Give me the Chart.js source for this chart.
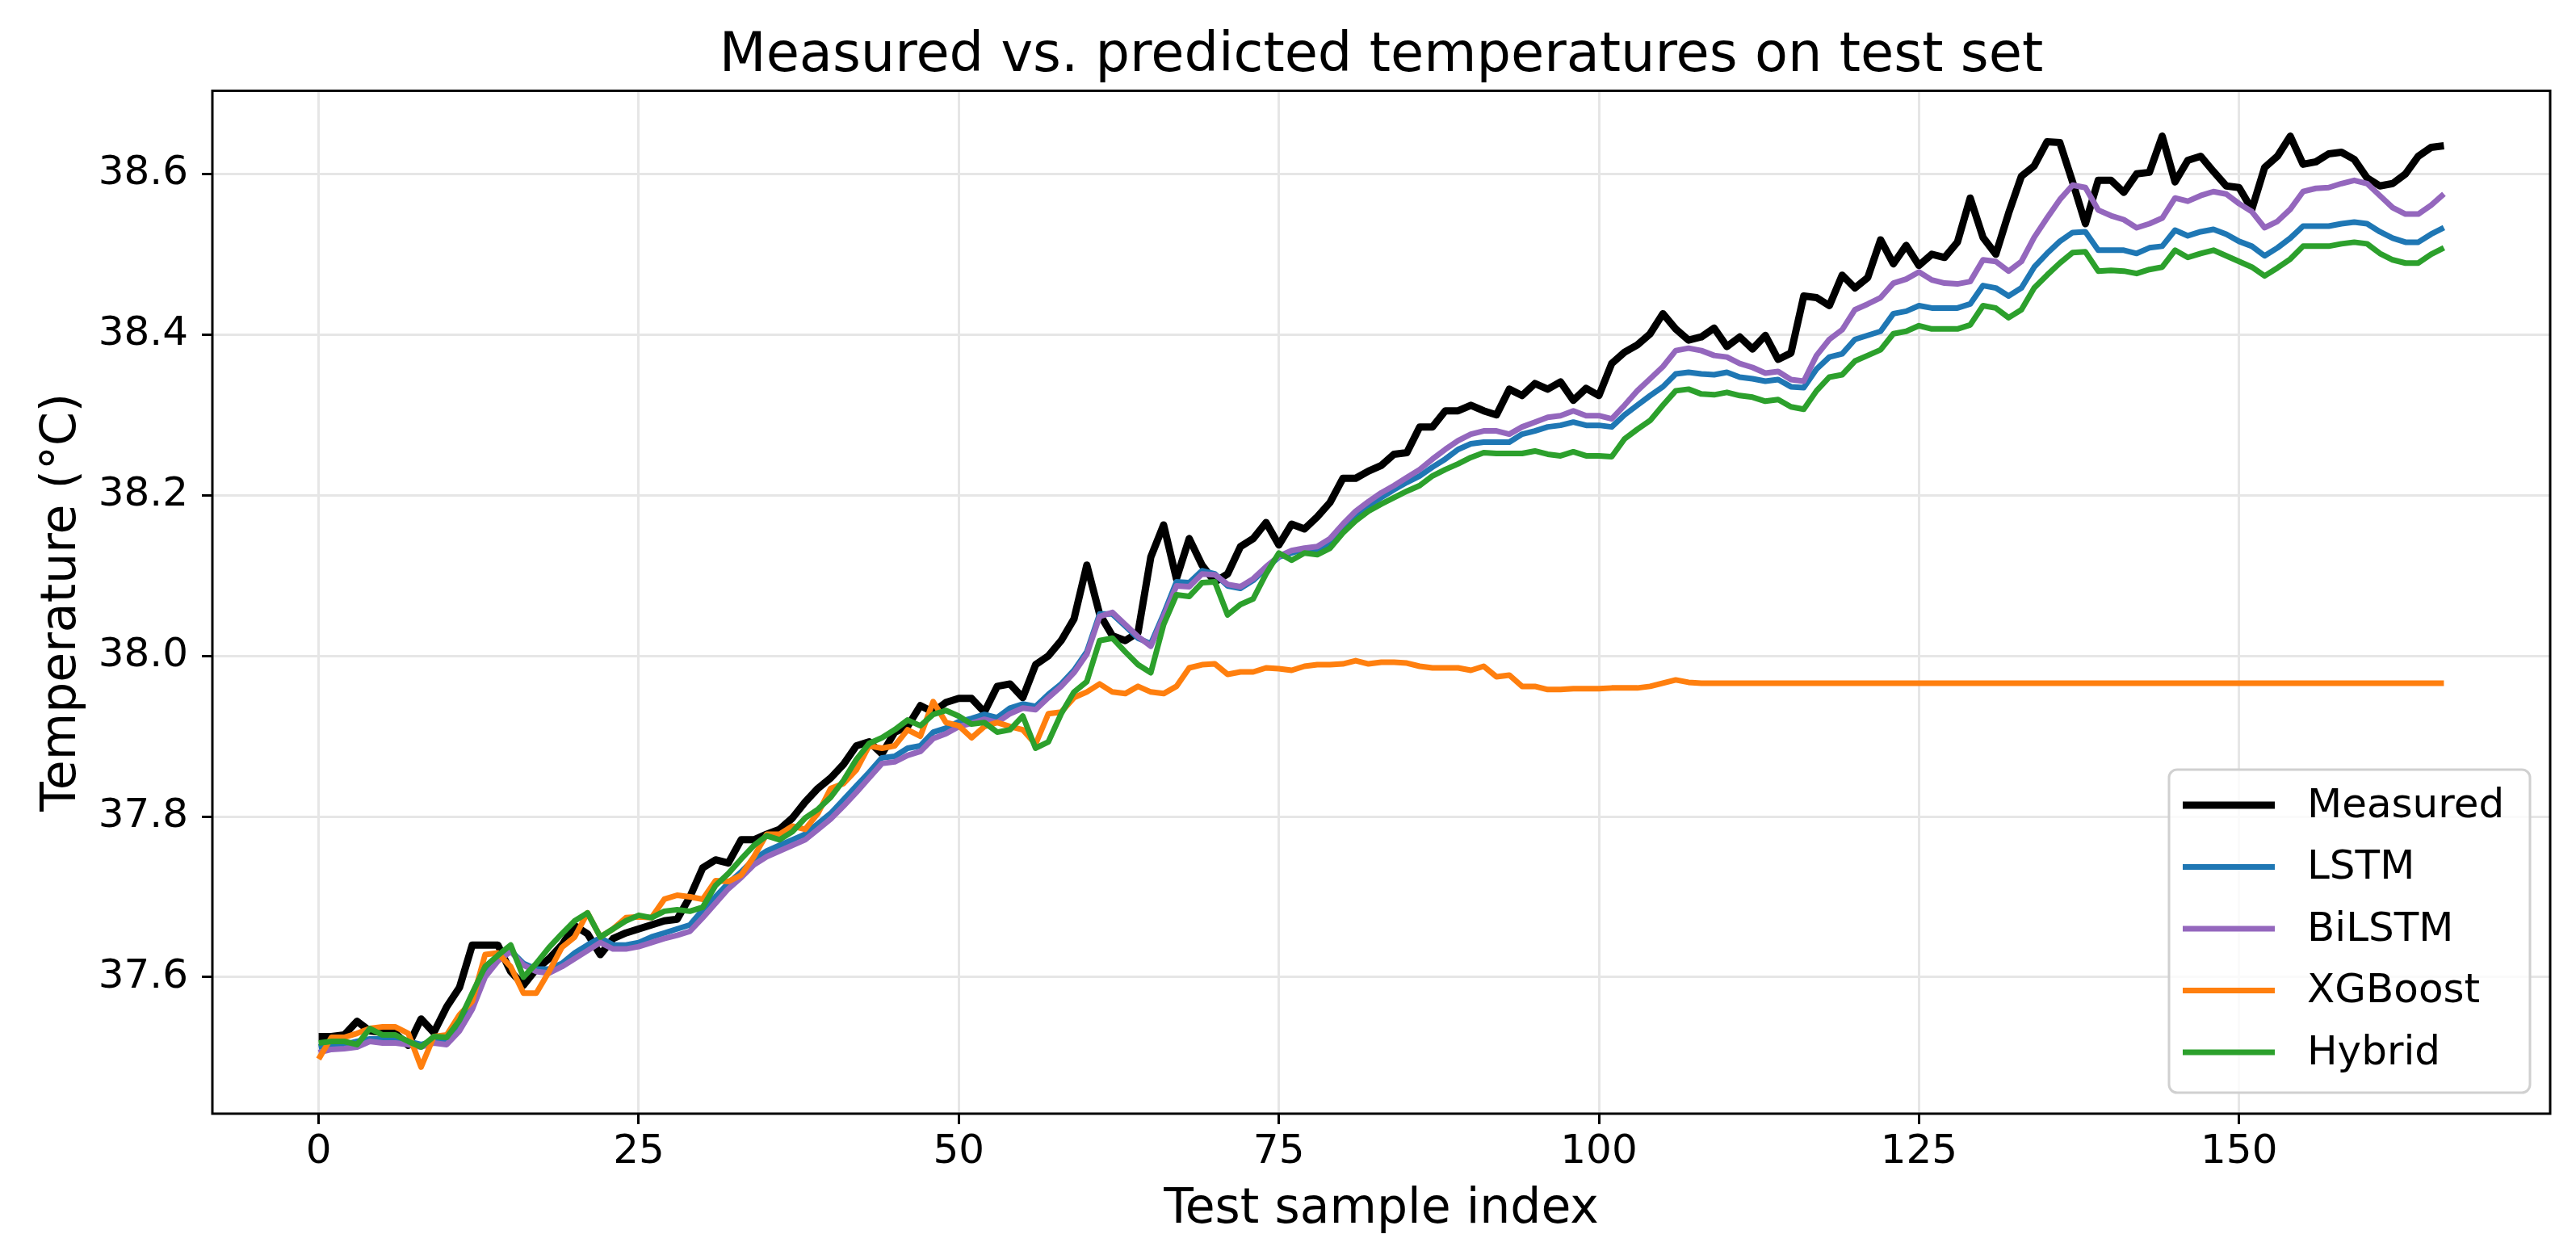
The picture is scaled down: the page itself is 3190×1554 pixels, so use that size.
<!DOCTYPE html>
<html>
<head>
<meta charset="utf-8">
<script src="https://cdn.jsdelivr.net/npm/chart.js@4.4.1/dist/chart.umd.min.js"></script>
<style>
  html, body { margin: 0; padding: 0; background: #fff; }
  #c { display: block; }
</style>
</head>
<body>
<canvas id="c" width="3190" height="1554" style="width:3190px;height:1554px"></canvas>
<script>
// values, one per test sample (index 0..166)
var measured = [
  37.526,37.526,37.528,37.545,37.533,37.531,37.530,37.515,37.548,37.531,
  37.563,37.587,37.640,37.640,37.640,37.607,37.590,37.610,37.623,37.640,
  37.664,37.654,37.628,37.648,37.655,37.660,37.665,37.670,37.672,37.700,
  37.736,37.746,37.742,37.771,37.771,37.778,37.784,37.798,37.818,37.835,
  37.848,37.865,37.888,37.893,37.878,37.905,37.912,37.938,37.930,37.942,
  37.947,37.947,37.930,37.962,37.965,37.948,37.989,38.000,38.019,38.046,
  38.113,38.052,38.025,38.019,38.029,38.123,38.163,38.096,38.146,38.113,
  38.092,38.102,38.136,38.146,38.166,38.138,38.164,38.158,38.173,38.191,
  38.221,38.221,38.230,38.237,38.251,38.253,38.285,38.285,38.305,38.305,
  38.312,38.305,38.300,38.332,38.324,38.339,38.332,38.341,38.318,38.333,
  38.324,38.364,38.378,38.387,38.401,38.426,38.407,38.393,38.397,38.408,
  38.385,38.397,38.382,38.399,38.369,38.377,38.448,38.446,38.436,38.474,
  38.458,38.471,38.518,38.488,38.511,38.486,38.500,38.496,38.515,38.570,
  38.521,38.500,38.551,38.597,38.610,38.640,38.639,38.590,38.538,38.592,
  38.592,38.577,38.600,38.602,38.647,38.590,38.617,38.622,38.603,38.585,
  38.583,38.556,38.608,38.622,38.647,38.612,38.615,38.625,38.627,38.618,
  38.595,38.585,38.588,38.600,38.622,38.633,38.635
];
var lstm = [
  37.513,37.516,37.516,37.520,37.523,37.523,37.522,37.520,37.516,37.521,
  37.521,37.540,37.570,37.610,37.622,37.633,37.617,37.610,37.610,37.617,
  37.630,37.640,37.649,37.640,37.640,37.643,37.650,37.655,37.660,37.665,
  37.684,37.700,37.717,37.731,37.747,37.757,37.764,37.771,37.778,37.791,
  37.804,37.821,37.838,37.855,37.873,37.875,37.885,37.888,37.905,37.910,
  37.918,37.922,37.927,37.923,37.935,37.940,37.937,37.952,37.965,37.982,
  38.005,38.052,38.052,38.037,38.022,38.015,38.052,38.092,38.091,38.106,
  38.102,38.087,38.084,38.094,38.109,38.123,38.128,38.133,38.131,38.139,
  38.159,38.175,38.187,38.197,38.207,38.216,38.224,38.235,38.245,38.257,
  38.264,38.266,38.266,38.266,38.276,38.280,38.285,38.287,38.291,38.287,
  38.287,38.285,38.300,38.312,38.324,38.335,38.351,38.353,38.351,38.350,
  38.353,38.347,38.345,38.342,38.344,38.335,38.334,38.357,38.372,38.376,
  38.394,38.399,38.404,38.426,38.429,38.436,38.433,38.433,38.433,38.438,
  38.461,38.458,38.448,38.458,38.484,38.501,38.516,38.527,38.528,38.505,
  38.505,38.505,38.501,38.508,38.510,38.530,38.523,38.528,38.531,38.525,
  38.516,38.510,38.498,38.508,38.520,38.535,38.535,38.535,38.538,38.540,
  38.538,38.528,38.520,38.515,38.515,38.525,38.533
];
var bilstm = [
  37.506,37.510,37.511,37.513,37.520,37.518,37.518,37.516,37.513,37.518,
  37.516,37.533,37.560,37.600,37.620,37.632,37.615,37.607,37.605,37.613,
  37.623,37.633,37.643,37.635,37.635,37.638,37.643,37.648,37.652,37.657,
  37.674,37.692,37.710,37.724,37.740,37.750,37.757,37.764,37.771,37.784,
  37.797,37.813,37.830,37.848,37.866,37.868,37.876,37.881,37.897,37.903,
  37.912,37.916,37.921,37.917,37.928,37.935,37.933,37.948,37.962,37.979,
  38.002,38.049,38.054,38.039,38.024,38.012,38.049,38.087,38.086,38.102,
  38.101,38.089,38.086,38.096,38.111,38.124,38.131,38.134,38.136,38.146,
  38.164,38.180,38.192,38.203,38.212,38.222,38.232,38.245,38.257,38.268,
  38.276,38.280,38.280,38.276,38.285,38.291,38.297,38.299,38.305,38.299,
  38.299,38.295,38.312,38.330,38.345,38.360,38.380,38.383,38.380,38.374,
  38.372,38.364,38.359,38.352,38.354,38.344,38.342,38.374,38.394,38.406,
  38.431,38.438,38.446,38.464,38.469,38.478,38.468,38.464,38.463,38.466,
  38.493,38.491,38.479,38.491,38.521,38.545,38.568,38.586,38.583,38.555,
  38.548,38.543,38.533,38.538,38.545,38.570,38.566,38.573,38.578,38.575,
  38.563,38.553,38.533,38.541,38.556,38.578,38.582,38.583,38.588,38.592,
  38.588,38.573,38.558,38.550,38.550,38.561,38.575
];
var xgboost = [
  37.498,37.525,37.525,37.530,37.536,37.538,37.538,37.530,37.488,37.526,
  37.528,37.553,37.570,37.628,37.630,37.613,37.580,37.580,37.607,37.637,
  37.650,37.680,37.650,37.660,37.674,37.675,37.674,37.697,37.702,37.700,
  37.697,37.720,37.719,37.727,37.750,37.778,37.778,37.788,37.784,37.804,
  37.835,37.841,37.858,37.888,37.885,37.888,37.908,37.900,37.943,37.917,
  37.913,37.898,37.912,37.917,37.912,37.908,37.890,37.928,37.930,37.948,
  37.955,37.965,37.955,37.953,37.962,37.955,37.953,37.962,37.985,37.989,
  37.990,37.977,37.980,37.980,37.985,37.984,37.982,37.987,37.989,37.989,
  37.990,37.994,37.990,37.992,37.992,37.991,37.987,37.985,37.985,37.985,
  37.982,37.987,37.974,37.976,37.962,37.962,37.958,37.958,37.959,37.959,
  37.959,37.960,37.960,37.960,37.962,37.966,37.970,37.967,37.966,37.966,
  37.966,37.966,37.966,37.966,37.966,37.966,37.966,37.966,37.966,37.966,
  37.966,37.966,37.966,37.966,37.966,37.966,37.966,37.966,37.966,37.966,
  37.966,37.966,37.966,37.966,37.966,37.966,37.966,37.966,37.966,37.966,
  37.966,37.966,37.966,37.966,37.966,37.966,37.966,37.966,37.966,37.966,
  37.966,37.966,37.966,37.966,37.966,37.966,37.966,37.966,37.966,37.966,
  37.966,37.966,37.966,37.966,37.966,37.966,37.966
];
var hybrid = [
  37.518,37.520,37.520,37.516,37.536,37.528,37.528,37.520,37.513,37.526,
  37.525,37.546,37.580,37.613,37.627,37.640,37.600,37.617,37.637,37.654,
  37.670,37.680,37.650,37.660,37.670,37.677,37.674,37.682,37.684,37.682,
  37.687,37.714,37.729,37.747,37.764,37.776,37.771,37.781,37.798,37.809,
  37.824,37.845,37.871,37.891,37.898,37.908,37.920,37.913,37.927,37.932,
  37.925,37.915,37.917,37.905,37.908,37.925,37.885,37.893,37.928,37.955,
  37.968,38.019,38.022,38.005,37.989,37.979,38.039,38.076,38.074,38.091,
  38.092,38.051,38.064,38.071,38.102,38.128,38.119,38.128,38.126,38.134,
  38.153,38.168,38.180,38.189,38.197,38.205,38.212,38.224,38.232,38.239,
  38.247,38.253,38.252,38.252,38.252,38.255,38.251,38.249,38.254,38.249,
  38.249,38.248,38.270,38.282,38.293,38.312,38.330,38.332,38.326,38.325,
  38.328,38.324,38.322,38.317,38.319,38.310,38.307,38.330,38.347,38.350,
  38.367,38.374,38.381,38.401,38.404,38.411,38.407,38.407,38.407,38.412,
  38.436,38.433,38.421,38.431,38.458,38.474,38.489,38.502,38.503,38.479,
  38.480,38.479,38.476,38.481,38.484,38.505,38.496,38.501,38.505,38.498,
  38.491,38.484,38.473,38.483,38.494,38.510,38.510,38.510,38.513,38.515,
  38.513,38.501,38.493,38.489,38.489,38.500,38.508
];

var seriesNames = ['Measured', 'LSTM', 'BiLSTM', 'XGBoost', 'Hybrid'];
var seriesColors = ['#000000', '#1f77b4', '#9467bd', '#ff7f0e', '#2ca02c'];
var xTicks = [0, 25, 50, 75, 100, 125, 150];
var yTicks = [37.6, 37.8, 38.0, 38.2, 38.4, 38.6];

var FONT = "'DejaVu Sans', 'Liberation Sans', sans-serif";

function toPoints(arr) {
  return arr.map(function (v, i) { return { x: i, y: v }; });
}

var allSeries = [measured, lstm, bilstm, xgboost, hybrid];
var datasets = allSeries.map(function (arr, k) {
  return {
    label: seriesNames[k],
    data: toPoints(arr),
    borderColor: seriesColors[k],
    backgroundColor: seriesColors[k],
    borderWidth: k === 0 ? 9 : 7,
    pointRadius: 0,
    tension: 0,
    fill: false,
    borderJoinStyle: 'round',
    borderCapStyle: 'butt',
    order: 5 - k   // later series on top, like the original
  };
});

// frame around the axes + legend box in lower right corner
var framePlugin = {
  id: 'frameAndLegend',
  afterDatasetsDraw: function (chart) {
    var a = chart.chartArea, ctx = chart.ctx;
    ctx.save();
    ctx.strokeStyle = '#000';
    ctx.lineWidth = 3;
    ctx.strokeRect(a.left, a.top, a.right - a.left, a.bottom - a.top);
    ctx.restore();
  },
  afterDraw: function (chart) {
    var a = chart.chartArea, ctx = chart.ctx;
    var w = 447, h = 400;
    var left = a.right - 25 - w, top = a.bottom - 26 - h;
    ctx.save();
    ctx.beginPath();
    if (ctx.roundRect) ctx.roundRect(left, top, w, h, 10);
    else ctx.rect(left, top, w, h);
    ctx.fillStyle = 'rgba(255,255,255,0.8)';
    ctx.fill();
    ctx.strokeStyle = '#d0d0d0';
    ctx.lineWidth = 3;
    ctx.stroke();
    ctx.font = '50px ' + FONT;
    ctx.textBaseline = 'middle';
    ctx.textAlign = 'left';
    chart.data.datasets.forEach(function (ds, i) {
      var y = top + 44 + i * 76.5;
      ctx.beginPath();
      ctx.strokeStyle = ds.borderColor;
      ctx.lineWidth = ds.borderWidth;
      ctx.moveTo(left + 17, y);
      ctx.lineTo(left + 131, y);
      ctx.stroke();
      ctx.fillStyle = '#000';
      ctx.fillText(ds.label, left + 171, y + 2);
    });
    ctx.restore();
  }
};

new Chart(document.getElementById('c'), {
  type: 'line',
  data: { datasets: datasets },
  plugins: [framePlugin],
  options: {
    responsive: false,
    devicePixelRatio: 1,
    animation: false,
    layout: { padding: { left: 0, right: 32, top: 0, bottom: 0 } },
    plugins: {
      legend: { display: false },
      tooltip: { enabled: false },
      title: {
        display: true,
        fullSize: false,   // centre over the plot area, as matplotlib does
        text: 'Measured vs. predicted temperatures on test set',
        color: '#000',
        font: { family: FONT, size: 67, weight: 'normal' },
        padding: { top: 30, bottom: 2 }
      }
    },
    scales: {
      x: {
        type: 'linear',
        min: -8.3,
        max: 174.3,
        afterBuildTicks: function (s) { s.ticks = xTicks.map(function (v) { return { value: v }; }); },
        afterFit: function (s) { s.height = 175; },
        ticks: {
          color: '#000',
          font: { family: FONT, size: 50 },
          padding: 5,
          maxRotation: 0,
          autoSkip: false,
          callback: function (v) { return String(v); }
        },
        grid: { color: '#e6e6e6', lineWidth: 3, tickColor: '#000', tickLength: 13, tickWidth: 3 },
        border: { display: false },
        title: {
          display: true,
          text: 'Test sample index',
          color: '#000',
          font: { family: FONT, size: 60 },
          padding: { top: 0, bottom: 20 }
        }
      },
      y: {
        type: 'linear',
        min: 37.430,
        max: 38.7035,
        afterBuildTicks: function (s) { s.ticks = yTicks.map(function (v) { return { value: v }; }); },
        afterFit: function (s) { s.width = 263; },
        ticks: {
          color: '#000',
          font: { family: FONT, size: 50 },
          padding: 17,
          autoSkip: false,
          callback: function (v) { return v.toFixed(1); }
        },
        grid: { color: '#e6e6e6', lineWidth: 3, tickColor: '#000', tickLength: 13, tickWidth: 3 },
        border: { display: false },
        title: {
          display: true,
          text: 'Temperature (°C)',
          color: '#000',
          font: { family: FONT, size: 60 },
          padding: { top: 41, bottom: 0 }
        }
      }
    }
  }
});
</script>
</body>
</html>
